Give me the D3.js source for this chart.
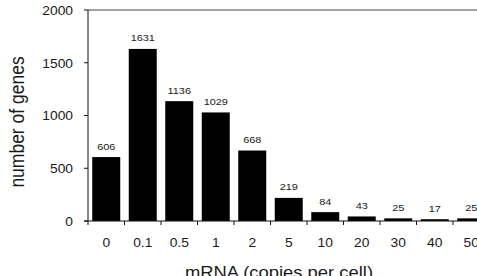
<!DOCTYPE html>
<html>
<head>
<meta charset="utf-8">
<script src="https://cdn.jsdelivr.net/npm/d3@7"></script>
<style>
  body { margin: 0; background: #fff; }
  svg { display: block; }
  text { font-family: "Liberation Sans", Arial, Helvetica, sans-serif; fill: #1a1a1a; }
</style>
</head>
<body>
<svg id="chart"></svg>
<script>
const categories = ["0", "0.1", "0.5", "1", "2", "5", "10", "20", "30", "40", "50"];
const geneCounts = [606, 1631, 1136, 1029, 668, 219, 84, 43, 25, 17, 25];
const yTicks = [0, 500, 1000, 1500, 2000];

const chartW = 477, chartH = 276;
const plotLeft = 88, plotTop = 10, plotBottom = 221, bandStep = 36.5;
const stretch = 1.15; // the scanned figure is a bit wider than tall

const svg = d3.select("#chart").attr("width", chartW).attr("height", chartH);

const x = d3.scaleBand()
  .domain(categories)
  .range([plotLeft, plotLeft + bandStep * categories.length])
  .paddingInner(0.233)
  .paddingOuter(0.1165);

const y = d3.scaleLinear().domain([0, 2000]).range([plotBottom, plotTop]);

// stretched text helper
function label(g, tx, ty, str, size, anchor, rotate) {
  return g.append("text")
    .attr("transform", "translate(" + tx + "," + ty + ") scale(" + stretch + ",1)" + (rotate ? " rotate(" + rotate + ")" : ""))
    .attr("text-anchor", anchor)
    .style("font-size", size + "px")
    .text(str);
}

// bars
svg.append("g")
  .selectAll("rect")
  .data(geneCounts)
  .enter()
  .append("rect")
  .attr("x", (d, i) => x(categories[i]))
  .attr("width", x.bandwidth())
  .attr("y", d => y(d))
  .attr("height", d => y(0) - y(d))
  .attr("fill", "#000");

// value labels
const vals = svg.append("g");
geneCounts.forEach((d, i) => {
  label(vals, x(categories[i]) + x.bandwidth() / 2, y(d) - 7.5, d, 9.5, "middle");
});

// frame: top line
svg.append("line")
  .attr("x1", plotLeft).attr("x2", chartW)
  .attr("y1", y(2000)).attr("y2", y(2000))
  .attr("stroke", "#444").attr("stroke-width", 1);

// y axis
const yAxis = svg.append("g");
yAxis.append("line")
  .attr("x1", plotLeft).attr("x2", plotLeft)
  .attr("y1", y(2000)).attr("y2", y(0))
  .attr("stroke", "#111");
yTicks.forEach(t => {
  yAxis.append("line")
    .attr("x1", plotLeft - 4).attr("x2", plotLeft)
    .attr("y1", y(t)).attr("y2", y(t))
    .attr("stroke", "#111");
  label(yAxis, 73, y(t) + 4.8, t, 12, "end");
});

// x axis
const xAxis = svg.append("g");
xAxis.append("line")
  .attr("x1", plotLeft - 4).attr("x2", chartW)
  .attr("y1", y(0)).attr("y2", y(0))
  .attr("stroke", "#111");
d3.range(categories.length + 1).forEach(i => {
  const xp = plotLeft + x.step() * i;
  xAxis.append("line")
    .attr("x1", xp).attr("x2", xp)
    .attr("y1", y(0)).attr("y2", y(0) + 4)
    .attr("stroke", "#111");
});
categories.forEach(c => {
  label(xAxis, x(c) + x.bandwidth() / 2, 247, c, 12, "middle");
});

// axis titles
label(svg, 279, 277.5, "mRNA (copies per cell)", 16, "middle");
label(svg, 23.5, 122, "number of genes", 17.5, "middle", -90);
</script>
</body>
</html>
